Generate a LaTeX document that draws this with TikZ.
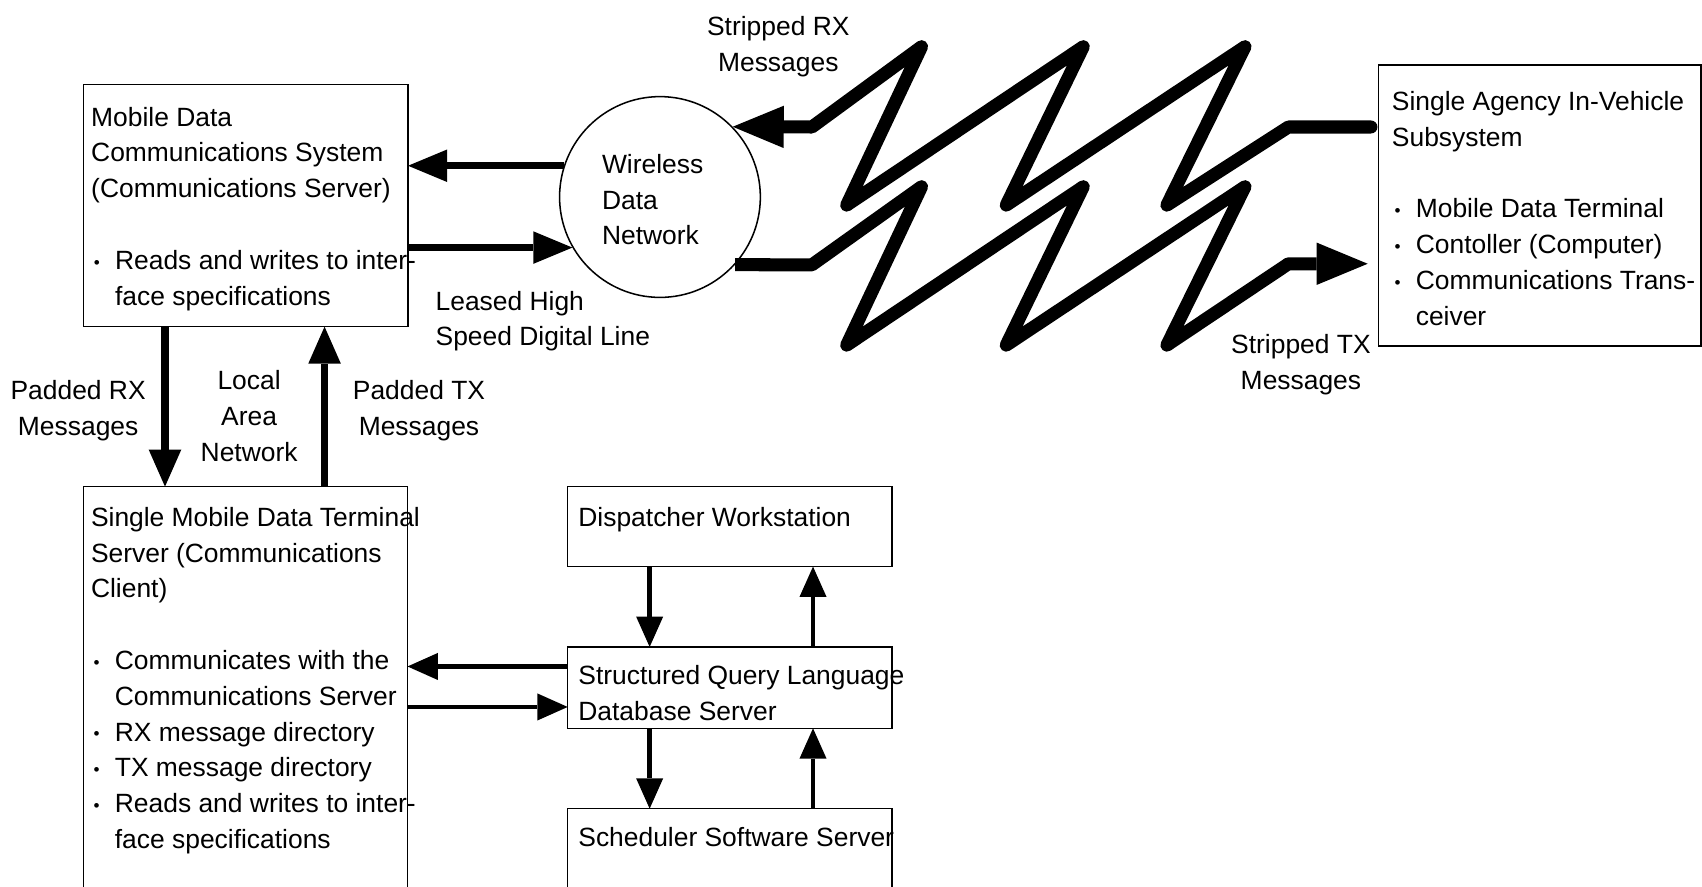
\documentclass[tikz,border=0pt]{standalone}
\usepackage{fontspec}
\setmainfont{Liberation Sans}
\usetikzlibrary{arrows.meta,calc}

\newcommand{\itm}{\makebox[0.44cm][l]{\hspace{0.05cm}\raisebox{0.02cm}{\fontsize{9}{9}\selectfont •}}}
\newcommand{\hng}{\hspace*{0.44cm}}

\begin{document}
\begin{tikzpicture}[x=0.02cm,y=-0.02cm,
  txt/.style={font=\fontsize{13.85}{18.75}\selectfont, inner sep=0pt, align=left, anchor=base west},
  lbl/.style={font=\fontsize{13.85}{18.75}\selectfont, inner sep=0pt, align=center, anchor=base},
  blk/.style={draw, line width=0.8pt, inner sep=0pt, outer sep=0pt, anchor=north west, minimum width=5.98cm},
  lan/.style={line width=0.14cm, -{Triangle[length=0.68cm,width=0.6cm,line width=0pt]}},
  lhs/.style={line width=0.12cm, -{Triangle[length=0.72cm,width=0.6cm,line width=0pt]}},
  radio/.style={line width=0.24cm, line join=round, -{Triangle[length=0.94cm,width=0.78cm,line width=0pt]}},
  db/.style={line width=0.08cm, -{Triangle[length=0.56cm,width=0.5cm,line width=0pt]}}]
\useasboundingbox (0,0) rectangle (1568,817);
\clip (0,0) rectangle (1568,817);

% boxes
\node[blk, minimum height=4.466cm] (mdcs) at (77,77.7) {};
\node[blk, minimum width=5.97cm, minimum height=7.8cm] (smdt) at (77,448.3) {};
\node[blk, minimum height=1.48cm] (disp) at (523,448) {};
\node[blk, minimum height=1.5cm] (sql) at (523,596) {};
\node[blk, minimum height=1.5cm] (sched) at (523,745) {};
\node[blk, minimum width=5.94cm, minimum height=5.18cm] (sav) at (1270,60) {};
\node[draw, circle, line width=0.8pt, minimum size=3.7cm, inner sep=0pt] (wdn) at (608,181.5) {};

% texts (base = last line)
\node[txt] (mdcsT) at (83.7,281) {Mobile Data\\Communications System\\(Communications Server)\\[18.75pt]\itm Reads and writes to inter-\\\hng face specifications};
\node[txt] (smdtT) at (83.5,781.5) {Single Mobile Data Terminal\\Server (Communications\\Client)\\[18.75pt]\itm Communicates with the\\\hng Communications Server\\\itm RX message directory\\\itm TX message directory\\\itm Reads and writes to inter-\\\hng face specifications};
\node[txt] (dispT) at (532.5,485) {Dispatcher Workstation};
\node[txt] (sqlT) at (532.5,664) {Structured Query Language\\Database Server};
\node[txt] (schedT) at (532.5,780) {Scheduler Software Server};
\node[txt] (savT) at (1282,299.5) {Single Agency In-Vehicle\\Subsystem\\[18.75pt]\itm Mobile Data Terminal\\\itm Contoller (Computer)\\\itm Communications Trans-\\\hng ceiver};
\node[txt] (wdnT) at (554.3,225.7) {Wireless\\Data\\Network};
\node[txt] (lhsT) at (401,318.7) {Leased High\\Speed Digital Line};
\node[lbl] (rxT) at (717,65.5) {Stripped RX\\Messages};
\node[lbl] (txT) at (1198.5,359) {Stripped TX\\Messages};
\node[lbl] (prxT) at (72,401) {Padded RX\\Messages};
\node[lbl] (lanT) at (229.5,425) {Local\\Area\\Network};
\node[lbl] (ptxT) at (386,401) {Padded TX\\Messages};

% connectors
\coordinate (rxin) at ($(sav.north west)+(-7,57)$);
\coordinate (txin) at ($(sav.north west)+(-10,183)$);
\coordinate (sqlrx) at ($(sql.north west)+(0,18)$);
\coordinate (sqltx) at ($(smdt.north east)+(0,203)$);

\draw[lhs] (wdn.162) -- (mdcs.east |- wdn.162);
\draw[lhs] (mdcs.east |- wdn.210) -- (wdn.210);
\draw[lan] ($(mdcs.south west)+(75,0)$) -- ($(smdt.north west)+(75,0)$);
\draw[lan] ($(smdt.north west)+(222,0)$) -- ($(mdcs.south west)+(222,0)$);
\draw[db] (sqlrx) -- (smdt.east |- sqlrx);
\draw[db] (sqltx) -- (sql.west |- sqltx);
\draw[db] ($(disp.south west)+(75.5,0)$) -- ($(sql.north west)+(75.5,0)$);
\draw[db] ($(sql.north west)+(226,0)$) -- ($(disp.south west)+(226,0)$);
\draw[db] ($(sql.south west)+(75.5,0)$) -- ($(sched.north west)+(75.5,0)$);
\draw[db] ($(sched.north west)+(226,0)$) -- ($(sql.south west)+(226,0)$);

% radio links
\draw[radio, line cap=round] (rxin) -- (1187,117) -- (1075,189) -- (1147,43) -- (927,189) -- (998,43) -- (780,189) -- (849,43) -- (748,117) -- (wdn.44);
\draw[radio] (wdn.-42) -- (748,244) -- (849,172) -- (780,318) -- (998,172) -- (927,318) -- (1147,172) -- (1075,318) -- (1187,243) -- (txin);
\end{tikzpicture}
\end{document}
